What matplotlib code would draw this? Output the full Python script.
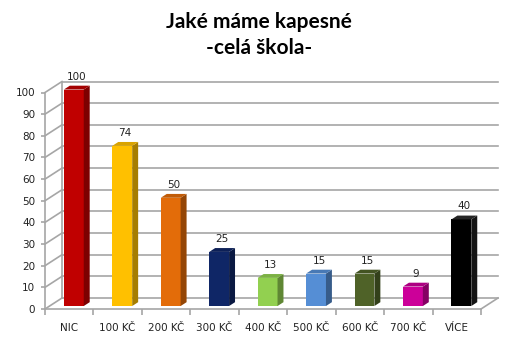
import numpy as np
import matplotlib
matplotlib.use("Agg")
import matplotlib.pyplot as plt
from matplotlib.patches import Polygon
from matplotlib.colors import to_rgb

# data
categories = ["NIC", "100 KČ", "200 KČ", "300 KČ", "400 KČ", "500 KČ", "600 KČ", "700 KČ", "VÍCE"]
values = [100, 74, 50, 25, 13, 15, 15, 9, 40]
colors = ["#C00000", "#FFC000", "#E36C09", "#0F2666", "#92D050", "#558ED5", "#4F6228", "#CC0099", "#000000"]
yticks = list(range(0, 101, 10))

W, H = 518, 340
fig = plt.figure(figsize=(W / 100, H / 100), dpi=100)
# front plane of the 3D box in pixels: x 45..481, y 309 (0) .. 92.5 (100)
ax = fig.add_axes([45 / W, (H - 309) / H, 436 / W, (309 - 92.5) / H])
ax.set_xlim(-0.5, len(categories) - 0.5)
ax.set_ylim(0, 100)

# depth vector of the wall, in data units
DX = 17 / 48.44
DY = 11 / 2.165
grid_c = "#A6A6A6"
xl, xr = -0.5, len(categories) - 0.5

# back wall gridlines + diagonals from the front axis
for t in yticks:
    ax.plot([xl + DX, xr + DX], [t + DY, t + DY], color=grid_c, lw=1.2, clip_on=False, zorder=1)
    ax.plot([xl, xl + DX], [t, t + DY], color=grid_c, lw=1.2, clip_on=False, zorder=1)
ax.plot([xl + DX, xl + DX], [DY, 100 + DY], color=grid_c, lw=1.2, clip_on=False, zorder=1)
ax.plot([xr, xr + DX], [0, DY], color=grid_c, lw=1.2, clip_on=False, zorder=1)

# bars: front face via ax.bar, side and top faces as polygons
w = 0.41
f0, f1 = 0.27, 0.62
x = np.arange(len(categories))
ax.bar(x + f0 * DX, values, width=w, bottom=f0 * DY, color=colors, zorder=3, clip_on=False)
for xi, v, c in zip(x, values, colors):
    rgb = np.array(to_rgb(c))
    side = rgb * 0.65
    top = rgb * 0.85
    if c == "#000000":
        side = np.array([0.08, 0.08, 0.08])
        top = np.array([0.15, 0.15, 0.15])
    a, b = xi - w / 2, xi + w / 2
    ax.add_patch(Polygon([(b + f0 * DX, f0 * DY), (b + f1 * DX, f1 * DY),
                          (b + f1 * DX, v + f1 * DY), (b + f0 * DX, v + f0 * DY)],
                         closed=True, facecolor=side, edgecolor="none", zorder=3, clip_on=False))
    ax.add_patch(Polygon([(a + f0 * DX, v + f0 * DY), (b + f0 * DX, v + f0 * DY),
                          (b + f1 * DX, v + f1 * DY), (a + f1 * DX, v + f1 * DY)],
                         closed=True, facecolor=top, edgecolor="none", zorder=3, clip_on=False))
    ax.annotate(str(v), (xi + (f0 + f1) / 2 * DX, v + f1 * DY), xytext=(0, 3),
                textcoords="offset points", ha="center", va="bottom", fontsize=7.5,
                color="#222222", annotation_clip=False)

# axes styling
for s in ["top", "right"]:
    ax.spines[s].set_visible(False)
ax.spines["left"].set_color(grid_c)
ax.spines["bottom"].set_color(grid_c)
ax.spines["left"].set_linewidth(1.2)
ax.spines["bottom"].set_linewidth(1.2)
ax.set_yticks(yticks)
ax.set_yticklabels([str(t) for t in yticks])
ax.set_xticks(x)
ax.set_xticklabels(categories)
ax.set_xticks(np.arange(len(categories) + 1) - 0.5, minor=True)
ax.tick_params(axis="x", which="major", length=0, pad=10, labelsize=7.5, colors="#222222")
ax.tick_params(axis="x", which="minor", length=4, color=grid_c, width=1.2)
ax.tick_params(axis="y", length=3, color=grid_c, width=1.2, labelsize=7.5, labelcolor="#222222", pad=4)

fig.text(0.5, 1 - 22 / H, "Jaké máme kapesné", ha="center", va="center",
         fontsize=15, fontweight="bold", family="Lato")
fig.text(0.5, 1 - 48 / H, "-celá škola-", ha="center", va="center",
         fontsize=15, fontweight="bold", family="Lato")

fig.savefig("out.png", dpi=100, facecolor="white")
